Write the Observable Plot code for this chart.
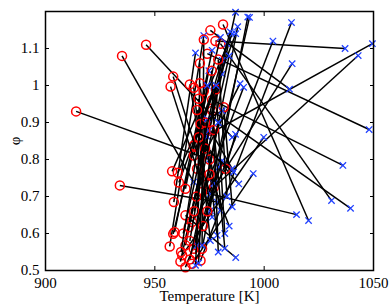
<!DOCTYPE html>
<html>
<head>
<meta charset="utf-8">
<script src="https://cdn.jsdelivr.net/npm/d3@7"></script>
<script src="https://cdn.jsdelivr.net/npm/@observablehq/plot@0.6"></script>
<style>
  html, body { margin: 0; padding: 0; background: #fff; }
  #chart { width: 390px; height: 304px; }
  #chart svg, #chart svg text { font-family: "Liberation Serif", "Times New Roman", serif !important; }
</style>
</head>
<body>
<div id="chart"></div>
<script>
// Start points (red circles): temperature [K] and phi
const redT = [914, 935, 946, 934, 977.7, 970.9, 977, 974, 970.9, 964, 968.6, 967, 975.4, 976.2, 980, 976.2, 971.6, 981.2, 967, 962.5, 964,
  961.7, 956.8, 958.4, 959, 964, 967.8, 971.6, 965.5, 958.7, 964, 961, 957.9, 960.5, 969.3, 973.9, 967.8, 967.8, 972.4, 970.6, 958.4,
  957.2, 966, 970.6, 967.8, 972.4, 970, 981.5, 969.3, 970.9, 975.4, 970.1, 982.3, 972, 974, 966, 969, 975, 973, 978, 976, 979, 973,
  968, 963, 977, 975, 962, 966];
const redPhi = [0.93, 1.08, 1.11, 0.73, 1.12, 0.856, 0.725, 1.086, 0.527, 0.509, 0.545, 0.631, 1.149, 0.961, 1.113, 0.932, 0.712, 1.165, 0.518, 0.541, 0.649,
  0.524, 0.565, 0.599, 0.604, 0.568, 0.559, 0.559, 0.617, 0.685, 0.721, 0.738, 0.768, 0.764, 0.775, 0.734, 0.811, 0.838, 1.124, 1.06, 1.024,
  0.997, 1.003, 1.006, 0.994, 0.985, 0.964, 0.941, 0.934, 0.896, 0.878, 0.86, 0.775, 0.62, 0.66, 0.58, 0.70, 0.80, 0.83, 0.99, 1.04, 1.07, 0.90,
  0.66, 0.60, 0.88, 0.76, 0.55, 0.53];
// End points (blue crosses)
const blueT = [975, 967.8, 985.4, 978.5, 1037, 1049.5, 1043, 1048, 1012.5, 1004, 993.3, 1012.8, 1011.6, 1036, 1030.8, 1039.5, 1014.8, 1020.3, 995, 999.8, 987,
  986.9, 972.4, 980, 976.2, 983, 987.9, 992.5, 980.8, 968.6, 974.7, 977, 985.5, 980.8, 989, 990.6, 984.5, 987, 971.6, 969.3, 975.4,
  975.4, 976.2, 978.5, 975.4, 968.6, 980, 985.4, 974, 980.8, 985.4, 988.4, 986.9, 979.2, 980.8, 974.7, 974, 977, 986, 982, 979, 983, 970,
  984, 978, 982, 984, 974, 979];
const bluePhi = [0.80, 0.739, 0.86, 0.685, 1.10, 1.113, 1.081, 0.881, 1.17, 1.12, 1.184, 1.059, 0.99, 0.784, 0.689, 0.668, 0.651, 0.635, 0.762, 0.86, 0.535,
  1.198, 1.135, 1.13, 1.095, 1.113, 1.159, 1.185, 1.068, 1.088, 1.04, 0.995, 1.14, 1.031, 1.005, 0.995, 1.145, 1.14, 0.568, 0.568, 0.707,
  0.662, 0.644, 0.595, 0.581, 0.514, 0.662, 0.672, 0.862, 0.932, 0.775, 0.734, 0.868, 0.779, 0.797, 0.878, 0.91, 0.735, 0.766, 0.60, 0.55, 0.70, 0.52,
  1.08, 1.00, 0.56, 0.62, 1.00, 0.90];

const xTicks = [900, 950, 1000, 1050];
const yTicks = [0.5, 0.6, 0.7, 0.8, 0.9, 1.0, 1.1];

const pairs = redT.map((t, i) => ({t1: t, p1: redPhi[i], t2: blueT[i], p2: bluePhi[i]}));

const font = "Liberation Serif, Times New Roman, serif";
const fmtY = d => String(+d.toFixed(1));
const fmtX = d => String(d);

const pairMarks = pairs.flatMap(p => [
  Plot.link([p], {x1: "t1", y1: "p1", x2: "t2", y2: "p2", stroke: "black", strokeWidth: 1.5}),
  Plot.dot([p], {x: "t1", y: "p1", r: 4.5, stroke: "#ff0000", strokeWidth: 1.5, fill: "none"}),
  Plot.dot([p], {x: "t2", y: "p2", symbol: "times", r: 3, stroke: "#2040ff", strokeWidth: 1.3})
]);

const chart = Plot.plot({
  width: 390,
  height: 304,
  marginLeft: 45,
  marginRight: 17,
  marginTop: 11,
  marginBottom: 34,
  style: {fontFamily: font, fontSize: "15px", background: "#fff", color: "black"},
  x: {domain: [900, 1050]},
  y: {domain: [0.5, 1.2]},
  marks: [
    ...pairMarks,
    Plot.axisX(xTicks, {anchor: "bottom", tickSize: 0, tickPadding: 7, fontSize: 15, fontFamily: font, tickFormat: fmtX, label: "Temperature [K]", labelAnchor: "center", labelOffset: 30, labelArrow: "none"}),
    Plot.axisX(xTicks, {anchor: "bottom", tickSize: -4, text: null, label: null, strokeWidth: 1}),
    Plot.axisX(xTicks, {anchor: "top", tickSize: -4, text: null, label: null, strokeWidth: 1}),
    Plot.axisY(yTicks, {anchor: "left", tickSize: 0, tickPadding: 6, fontSize: 15, fontFamily: font, tickFormat: fmtY, label: "φ", labelAnchor: "center", labelOffset: 36, labelArrow: "none"}),
    Plot.axisY(yTicks, {anchor: "left", tickSize: -4, text: null, label: null}),
    Plot.axisY(yTicks, {anchor: "right", tickSize: -4, text: null, label: null}),
    Plot.frame({stroke: "black", strokeWidth: 1.5})
  ]
});
document.getElementById("chart").appendChild(chart);
</script>
</body>
</html>
